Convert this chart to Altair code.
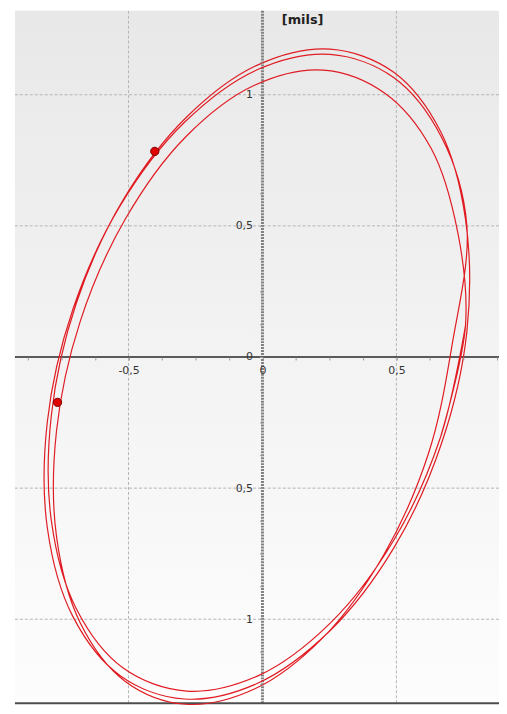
import altair as alt
import pandas as pd

# Orbit (three revolutions, in mils)
loop1_x = [0.758, 0.665, 0.490, 0.253, -0.015, -0.283, -0.520, -0.695, -0.788,
           -0.788, -0.695, -0.520, -0.283, -0.015, 0.253, 0.490, 0.665, 0.758]
loop1_y = [0.121, -0.305, -0.699, -1.015, -1.215, -1.274, -1.186, -0.960, -0.625,
           -0.221, 0.205, 0.599, 0.915, 1.115, 1.174, 1.086, 0.860, 0.525]
loop2_x = [0.763, 0.668, 0.491, 0.252, -0.020, -0.292, -0.531, -0.708, -0.803,
           -0.803, -0.708, -0.531, -0.292, -0.020, 0.252, 0.491, 0.668, 0.763]
loop2_y = [0.096, -0.331, -0.727, -1.044, -1.245, -1.304, -1.215, -0.989, -0.652,
           -0.246, 0.181, 0.577, 0.894, 1.095, 1.154, 1.065, 0.839, 0.502]
loop3_x = [0.709, 0.620, 0.452, 0.227, -0.030, -0.287, -0.512, -0.680, -0.769,
           -0.769, -0.680, -0.512, -0.287, -0.030, 0.227, 0.458, 0.630, 0.730]
loop3_y = [0.053, -0.367, -0.756, -1.069, -1.266, -1.324, -1.237, -1.014, -0.683,
           -0.283, 0.137, 0.526, 0.839, 1.036, 1.094, 1.005, 0.795, 0.470]

marker_x = [-0.402, -0.765]
marker_y = [0.784, -0.173]

grid_x = [-0.5, 0.5]
grid_y = [-1.0, -0.5, 0.5, 1.0]
ticks_x = [-0.875, -0.75, -0.625, -0.5, -0.375, -0.25, -0.125, 0.0,
           0.125, 0.25, 0.375, 0.5, 0.625, 0.75, 0.875]
ticks_y = [-1.25, -1.125, -1.0, -0.875, -0.75, -0.625, -0.5, -0.375, -0.25, -0.125, 0.0,
           0.125, 0.25, 0.375, 0.5, 0.625, 0.75, 0.875, 1.0, 1.125, 1.25]
x_domain = [-0.924, 0.883]
y_domain = [-1.32, 1.32]
unit_title = "[mils]"

W, H = 488, 698
x0_px = W * (0 - x_domain[0]) / (x_domain[1] - x_domain[0])
y0_px = H * (y_domain[1] - 0) / (y_domain[1] - y_domain[0])

# three revolutions; the last one runs back into the start of the first
xs = loop1_x + loop2_x + loop3_x + loop1_x[:2]
ys = loop1_y + loop2_y + loop3_y + loop1_y[:2]
orbit = pd.DataFrame({"x": xs, "y": ys, "i": list(range(len(xs)))})
markers = pd.DataFrame({"x": marker_x, "y": marker_y})

major = "abs(datum.value * 2 - round(datum.value * 2)) < 0.001"
x_label = ("(" + major + ") ? ((datum.value < 0 ? '-' : '') + "
           "replace(format(abs(datum.value), '.1~f'), '.', ',')) : ''")
y_label = ("(" + major + ") ? replace(format(abs(datum.value), '.1~f'), '.', ',') : ''")

xaxis = alt.Axis(values=ticks_x, orient="bottom", offset=-(H - y0_px), domain=False,
                 grid=False, tickSize=3, tickColor="#9a9a9a", labelExpr=x_label,
                 labelFont="DejaVu Sans", labelFontSize=11, labelColor="#333333",
                 labelPadding=5, labelOverlap=False, labelFlush=False, title="",
                 zindex=1)
yaxis = alt.Axis(values=ticks_y, orient="left", offset=-x0_px, domain=False,
                 grid=False, tickSize=3, tickColor="#9a9a9a", labelExpr=y_label,
                 labelFont="DejaVu Sans", labelFontSize=11, labelColor="#333333",
                 labelPadding=7, labelOverlap=False, labelFlush=False,
                 title=unit_title, titleAngle=0, titleAlign="left", titleBaseline="middle",
                 titleX=19, titleY=9, titleFont="DejaVu Sans", titleFontSize=13,
                 titleFontWeight="bold", titleColor="#222222", zindex=1)

xscale = alt.Scale(domain=x_domain, nice=False, zero=False)
yscale = alt.Scale(domain=y_domain, nice=False, zero=False)
X = alt.X("x:Q", scale=xscale, axis=xaxis)
Y = alt.Y("y:Q", scale=yscale, axis=yaxis)

grad = alt.LinearGradient(gradient="linear",
                          stops=[alt.GradientStop(color="#e8e8e8", offset=0),
                                 alt.GradientStop(color="#f3f3f3", offset=0.5),
                                 alt.GradientStop(color="#fdfdfd", offset=1)],
                          x1=0, x2=0, y1=0, y2=1)

bg = alt.Chart(pd.DataFrame({"x": [x_domain[0]], "x2": [x_domain[1]],
                             "y": [y_domain[0]], "y2": [y_domain[1]]})).mark_rect(
    fill=grad).encode(x=X, x2="x2:Q", y=Y, y2="y2:Q")

gridv = alt.Chart(pd.DataFrame({"x": grid_x})).mark_rule(
    color="#b4b4b4", strokeDash=[3, 2], strokeWidth=1).encode(x=X)
gridh = alt.Chart(pd.DataFrame({"y": grid_y})).mark_rule(
    color="#b4b4b4", strokeDash=[3, 2], strokeWidth=1).encode(y=Y)

vaxis = alt.Chart(pd.DataFrame({"x": [0.0]})).mark_rule(
    color="#808080", strokeWidth=3, strokeDash=[2, 1]).encode(x=X)
haxis = alt.Chart(pd.DataFrame({"y": [0.0]})).mark_rule(
    color="#5a5a5a", strokeWidth=2).encode(y=Y)
frame = alt.Chart(pd.DataFrame({"y": [y_domain[0]]})).mark_rule(
    color="#4d4d4d", strokeWidth=2).encode(y=Y)

line = alt.Chart(orbit).mark_line(color="#e01b22", strokeWidth=1.2,
                                  interpolate="catmull-rom").encode(
    x=X, y=Y, order="i:Q")
pts = alt.Chart(markers).mark_point(filled=True, fill="#e00000", stroke="#7a0000",
                                    strokeWidth=1, size=70, opacity=1).encode(x=X, y=Y)

chart = alt.layer(bg, gridv, gridh, vaxis, haxis, frame, line, pts).properties(
    width=W, height=H,
    padding={"left": 7, "top": 0, "right": 0, "bottom": 0},
    autosize=alt.AutoSizeParams(type="none"),
).configure_view(stroke="transparent")

chart.save("out.html", embed_options={"renderer": "svg", "actions": False})
